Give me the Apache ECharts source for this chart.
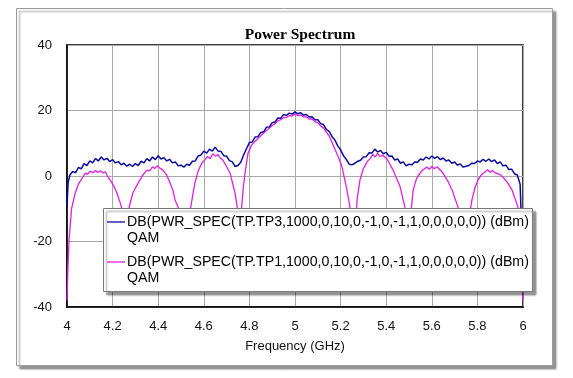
<!DOCTYPE html>
<html>
<head>
<meta charset="utf-8">
<script src="https://cdn.jsdelivr.net/npm/echarts@6/dist/echarts.min.js"></script>
<style>html,body{margin:0;padding:0;background:#fff;}#c{width:573px;height:378px;}</style>
</head>
<body>
<div id="c"></div>
<script>
// Axis ticks
var xTicks = [4, 4.2, 4.4, 4.6, 4.8, 5, 5.2, 5.4, 5.6, 5.8, 6];
var yTicks = [-40, -20, 0, 20, 40];

var seriesNames = [
  'DB(PWR_SPEC(TP.TP3,1000,0,10,0,-1,0,-1,1,0,0,0,0,0)) (dBm)\nQAM',
  'DB(PWR_SPEC(TP.TP1,1000,0,10,0,-1,0,-1,1,0,0,0,0,0)) (dBm)\nQAM'
];

// TP3 (blue) – frequency in GHz, level in dBm
var tp3Freq = [4.0,4.005,4.0125,4.025,4.0375,4.05,4.0625,4.075,4.0875,4.1,4.1125,4.125,4.1375,4.15,4.1625,4.175,4.1875,4.2,4.2125,4.225,4.2375,4.25,4.2625,4.275,4.2875,4.3,4.3125,4.325,4.3375,4.35,4.3625,4.375,4.3875,4.4,4.4125,4.425,4.4375,4.45,4.4625,4.475,4.4875,4.5,4.5125,4.525,4.5375,4.55,4.5625,4.575,4.5875,4.6,4.6125,4.625,4.6375,4.65,4.6625,4.675,4.6875,4.7,4.7125,4.725,4.7375,4.75,4.7625,4.775,4.7875,4.8,4.8125,4.825,4.8375,4.85,4.8625,4.875,4.8875,4.9,4.9125,4.925,4.9375,4.95,4.9625,4.975,4.9875,5.0,5.0125,5.025,5.0375,5.05,5.0625,5.075,5.0875,5.1,5.1125,5.125,5.1375,5.15,5.1625,5.175,5.1875,5.2,5.2125,5.225,5.2375,5.25,5.2625,5.275,5.2875,5.3,5.3125,5.325,5.3375,5.35,5.3625,5.375,5.3875,5.4,5.4125,5.425,5.4375,5.45,5.4625,5.475,5.4875,5.5,5.5125,5.525,5.5375,5.55,5.5625,5.575,5.5875,5.6,5.6125,5.625,5.6375,5.65,5.6625,5.675,5.6875,5.7,5.7125,5.725,5.7375,5.75,5.7625,5.775,5.7875,5.8,5.8125,5.825,5.8375,5.85,5.8625,5.875,5.8875,5.9,5.9125,5.925,5.9375,5.95,5.9625,5.975,5.9875,6.0];
var tp3Db = [-9,-2,0.3,1.4,1.0,2.6,2.2,3.8,3.2,4.6,4.0,5.3,4.6,5.8,4.9,5.4,4.4,5.0,4.0,4.4,3.4,3.9,3.0,3.6,2.9,3.8,3.2,4.5,4.0,5.3,4.6,5.8,5.0,6.2,5.2,5.6,4.6,5.1,4.0,4.3,3.1,3.3,2.7,3.6,3.3,4.5,4.6,6.1,6.4,7.6,7.0,8.2,7.6,8.8,7.6,7.5,6.2,6.1,4.7,4.3,2.9,3.2,4.3,6.5,8.4,10.2,10.4,11.9,12.0,13.3,13.5,14.9,15.0,16.3,16.5,17.7,17.6,18.8,18.5,19.2,18.9,19.6,19.0,19.3,18.6,18.8,18.0,18.1,17.2,17.2,16.0,15.7,14.2,13.6,12.0,11.0,9.2,8.0,6.2,5.1,3.6,3.4,3.9,4.5,4.8,5.8,5.9,7.1,7.0,8.2,7.3,7.8,6.8,7.2,6.0,6.1,4.9,5.2,3.9,4.3,3.1,3.6,3.4,4.3,4.2,5.2,4.9,5.8,5.2,6.1,5.4,5.9,5.0,5.5,4.6,4.9,3.9,4.3,3.3,3.7,2.7,3.0,3.2,3.9,3.8,4.6,4.3,5.1,4.5,5.2,4.4,4.9,3.8,4.3,3.1,3.3,2.0,2.1,0.7,0.3,-2.5,-30];

// TP1 (magenta)
var tp1Freq = [4.0,4.004,4.009,4.02,4.035,4.05,4.07,4.08,4.09,4.1,4.114,4.125,4.135,4.147,4.158,4.168,4.175,4.189,4.205,4.219,4.235,4.246,4.252,4.257,4.262,4.268,4.28,4.289,4.305,4.32,4.335,4.351,4.363,4.375,4.385,4.395,4.408,4.421,4.437,4.452,4.465,4.474,4.49,4.504,4.512,4.52,4.539,4.553,4.561,4.575,4.592,4.603,4.615,4.628,4.64,4.652,4.661,4.671,4.683,4.695,4.715,4.737,4.75,4.755,4.76,4.766,4.774,4.781,4.794,4.81,4.825,4.8375,4.85,4.8625,4.875,4.8875,4.9,4.9125,4.925,4.9375,4.95,4.9625,4.975,4.9875,5.0,5.0125,5.025,5.0375,5.05,5.0625,5.075,5.0875,5.1,5.1125,5.125,5.1375,5.15,5.17,5.19,5.206,5.228,5.241,5.25,5.258,5.272,5.285,5.3,5.316,5.33,5.342,5.352,5.362,5.373,5.385,5.404,5.43,5.461,5.482,5.495,5.5,5.505,5.518,5.533,5.548,5.562,5.579,5.59,5.6,5.611,5.623,5.636,5.649,5.67,5.689,5.715,5.735,5.745,5.75,5.755,5.765,5.776,5.79,5.803,5.818,5.833,5.845,5.855,5.866,5.877,5.895,5.912,5.932,5.952,5.978,5.992,6.0];
var tp1Db = [-38,-28,-19.5,-10,-5.5,-2.5,-0.3,0.9,0.5,1.4,1.0,1.7,1.1,1.6,0.9,1.3,0.2,-1.2,-3,-5.2,-8.5,-11.3,-20,-35,-20,-11,-7.5,-5.2,-3,-1.2,0.5,1.8,1.6,2.8,2.3,3.1,2.4,1.8,0.3,-2.1,-4.5,-7.3,-10,-14,-32,-14,-11,-5.2,-2.1,1.5,4,4.8,5.9,5.4,6.8,6.0,6.6,5.6,4.9,3.5,0.9,-5.2,-11,-35,-18,-9.5,-3,1,7,9.5,10.6,11.4,12.3,13.1,13.9,14.6,15.4,16.0,16.8,17.2,17.8,17.9,18.4,18.3,18.9,18.4,18.6,18.0,18.1,17.4,17.4,16.6,16.3,15.3,14.7,13.4,12.2,9.0,5.8,2.8,-4.3,-9.5,-14,-35,-7.3,-1.2,2.2,4.3,5.4,6.6,5.8,6.9,6.0,6.3,5.2,1.8,-3.3,-9.5,-16,-35,-14,-4.3,-0.8,0.9,1.9,2.7,2.1,2.9,2.2,2.8,1.9,0.9,-1.5,-4.3,-9.5,-14,-20,-35,-18,-12,-7.3,-3.4,-1.2,0.4,1.2,1.9,1.1,1.7,1.0,0.6,-0.3,-2.0,-4.3,-9.5,-20,-38];

function pairs(xs, ys) { return xs.map(function (x, i) { return [x, ys[i]]; }); }

var colors = ['#0a0a9e', '#e21ee2'];
var chart = echarts.init(document.getElementById('c'), null, {renderer: 'canvas'});
var legendTop = 208, legendLeft = 103;
chart.setOption({
  animation: false,
  backgroundColor: '#ffffff',
  title: {
    text: 'Power Spectrum', left: 295, top: 22, textAlign: 'center',
    textStyle: {fontFamily: 'Liberation Serif', fontWeight: 'bold', fontSize: 15.5, color: '#000'}
  },
  grid: {left: 67, top: 45, right: 50, bottom: 71, show: true, borderColor: '#000', borderWidth: 1.5, backgroundColor: 'transparent'},
  xAxis: {
    type: 'value', min: 4, max: 6, interval: 0.2,
    name: 'Frequency (GHz)', nameLocation: 'middle', nameGap: 33,
    nameTextStyle: {fontFamily: 'Liberation Sans', fontSize: 13, color: '#111'},
    axisLine: {show: true, onZero: false, lineStyle: {color: '#000', width: 1.5}},
    axisTick: {show: false},
    axisLabel: {fontFamily: 'Liberation Sans', fontSize: 13, color: '#111', margin: 13,
      formatter: function (v) { return String(Math.round(v * 10) / 10); }},
    splitLine: {show: true, lineStyle: {color: '#a8a8a8', width: 1}}
  },
  yAxis: {
    type: 'value', min: -40, max: 40, interval: 20,
    axisLine: {show: true, onZero: false, lineStyle: {color: '#000', width: 1.5}},
    axisTick: {show: false},
    axisLabel: {fontFamily: 'Liberation Sans', fontSize: 13, color: '#111', margin: 15},
    splitLine: {show: true, lineStyle: {color: '#a8a8a8', width: 1}}
  },
  series: [
    {name: seriesNames[0], type: 'line', data: pairs(tp3Freq, tp3Db), showSymbol: false, symbol: 'none',
      lineStyle: {color: colors[0], width: 1.5}, itemStyle: {color: colors[0]}, z: 3},
    {name: seriesNames[1], type: 'line', data: pairs(tp1Freq, tp1Db), showSymbol: false, symbol: 'none',
      lineStyle: {color: colors[1], width: 1.3}, itemStyle: {color: colors[1]}, z: 2}
  ],
  graphic: [
    {type: 'rect', z: -10, shape: {x: 16.5, y: 8.5, width: 536, height: 357},
      style: {fill: '#fff', stroke: '#9a9a9a', lineWidth: 1, shadowColor: 'rgba(0,0,0,0.4)', shadowBlur: 2, shadowOffsetX: 3, shadowOffsetY: 3}},
    {type: 'group', z: 100, children: [
      {type: 'rect', z: 100, shape: {x: legendLeft + 0.5, y: legendTop + 0.5, width: 429, height: 83},
        style: {fill: '#fff', stroke: '#777', lineWidth: 1, shadowColor: 'rgba(0,0,0,0.4)', shadowBlur: 2, shadowOffsetX: 3, shadowOffsetY: 3}},
      {type: 'line', z: 101, shape: {x1: legendLeft + 4, y1: legendTop + 14, x2: legendLeft + 22, y2: legendTop + 14}, style: {stroke: colors[0], lineWidth: 1.3}},
      {type: 'text', z: 101, x: legendLeft + 24, y: legendTop + 6, style: {text: seriesNames[0], font: '14.2px "Liberation Sans"', fill: '#000', lineHeight: 16}},
      {type: 'line', z: 101, shape: {x1: legendLeft + 4, y1: legendTop + 54, x2: legendLeft + 22, y2: legendTop + 54}, style: {stroke: colors[1], lineWidth: 1.3}},
      {type: 'text', z: 101, x: legendLeft + 24, y: legendTop + 46, style: {text: seriesNames[1], font: '14.2px "Liberation Sans"', fill: '#000', lineHeight: 16}}
    ]}
  ]
});
</script>
</body>
</html>
